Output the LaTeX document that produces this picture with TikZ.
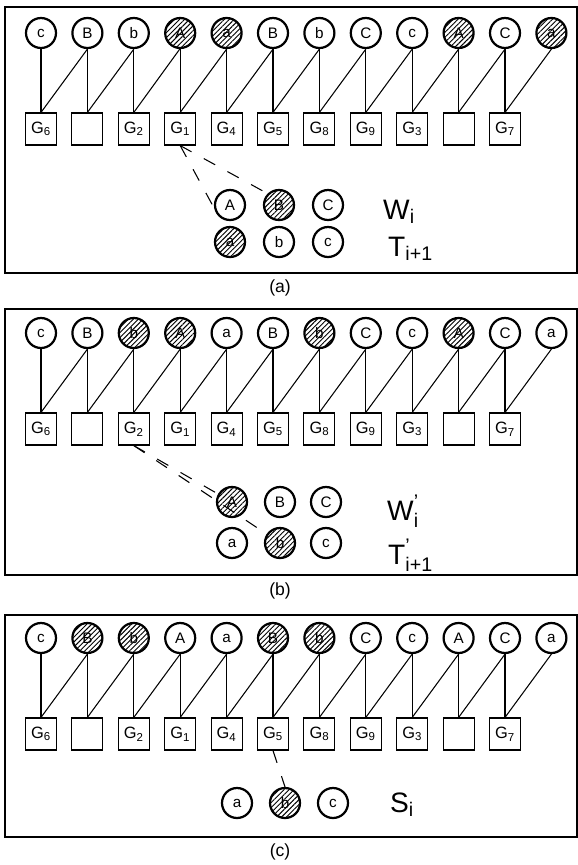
\documentclass[tikz,border=0pt]{standalone}
\usepackage{fontspec}
\setmainfont{Liberation Sans}
\usepackage{amsmath}
\usetikzlibrary{patterns.meta}

\tikzset{
  ball/.style={circle,draw,line width=1.9pt,minimum size=9mm,inner sep=0pt,font=\fontsize{13}{15}\selectfont},
  hatched/.style={ball,pattern={Lines[angle=45,distance=3pt,line width=0.8pt]}},
  gbox/.style={draw,line width=1pt,minimum width=9.3mm,minimum height=9.6mm,inner sep=0pt,font=\fontsize{14}{16}\selectfont},
  link/.style={line width=0.9pt},
  dlink/.style={line width=0.9pt,dash pattern=on 11pt off 12pt},
  frame/.style={line width=1.1pt},
  setname/.style={anchor=base west,inner sep=0pt,font=\fontsize{24}{26}\selectfont},
  panelname/.style={font=\fontsize{15}{17}\selectfont}
}

% one row of genes: circles on top, boxes below, two links per box
\newcommand{\generow}[3]{%
  \foreach \lab/\sty [count=\i] in {#3}
    \node[\sty] (#1c\i) at ({41+46.4*(\i-1)},{#2}) {\lab};
  \foreach \g [count=\i] in {6,{},2,1,4,5,8,9,3,{},7}
    \node[gbox] (#1g\i) at ({41+46.4*(\i-1)},{#2+96}) {\ifx\g\empty\else G\textsubscript{\g}\fi};
  \foreach \i in {1,...,11} {
    \pgfmathtruncatemacro\j{\i+1}
    \draw[link] (#1c\i.south) -- (#1g\i.north);
    \draw[link] (#1c\j.south) -- (#1g\i.north);
  }%
}

\begin{document}
\begin{tikzpicture}[x=0.3mm,y=-0.3mm]
\useasboundingbox (0,0) rectangle (578,865);

% (a)
\draw[frame] (5,7) rectangle (577,273);
\generow{a}{33}{c/ball,B/ball,b/ball,A/hatched,a/hatched,B/ball,b/ball,C/ball,c/ball,A/hatched,C/ball,a/hatched}
\node[ball] (wA) at (230,205) {A};
\node[hatched] (wB) at (279,205) {B};
\node[ball] (wC) at (328,205) {C};
\node[hatched] (ta) at (230,242) {a};
\node[ball] (tb) at (279,242) {b};
\node[ball] (tc) at (328,242) {c};
\node[setname] (wlab) at (383,219) {$\text{W}_{\text{i}}$};
\node[setname] (tlab) at (388,256) {$\text{T}_{\text{i+1}}$};
\draw[dlink] (ag4.south) -- (wA.south west);
\draw[dlink] (ag4.south) -- (wB.north west);
\node[panelname] (capa) at (280,288) {(a)};

% (b)
\draw[frame] (5,309) rectangle (577,575);
\generow{b}{333}{c/ball,B/ball,b/hatched,A/hatched,a/ball,B/ball,b/hatched,C/ball,c/ball,A/hatched,C/ball,a/ball}
\node[hatched] (vA) at (232,502) {A};
\node[ball] (vB) at (280,502) {B};
\node[ball] (vC) at (326,502) {C};
\node[ball] (ua) at (232,543) {a};
\node[hatched] (ub) at (280,543) {b};
\node[ball] (uc) at (326,543) {c};
\node[setname] (vlab) at (387,520) {$\text{W}^{\text{'}}_{\text{i}}$};
\node[setname] (ulab) at (388,564) {$\text{T}^{\text{'}}_{\text{i+1}}$};
\draw[dlink] (bg3.south) -- (vA);
\draw[dlink,shorten >=4.5mm] (bg3.south) -- (ub.center);
\node[panelname] (capb) at (280,591) {(b)};

% (c)
\draw[frame] (5,615) rectangle (577,837);
\generow{c}{638}{c/ball,B/hatched,b/hatched,A/ball,a/ball,B/hatched,b/hatched,C/ball,c/ball,A/ball,C/ball,a/ball}
\node[ball] (sa) at (237,803) {a};
\node[hatched] (sb) at (285,803) {b};
\node[ball] (sc) at (333,803) {c};
\node[setname] (slab) at (390,812) {$\text{S}_{\text{i}}$};
\draw[dlink] (cg6.south) -- (sb.north);
\node[panelname] (capc) at (280,852) {(c)};
\end{tikzpicture}
\end{document}
